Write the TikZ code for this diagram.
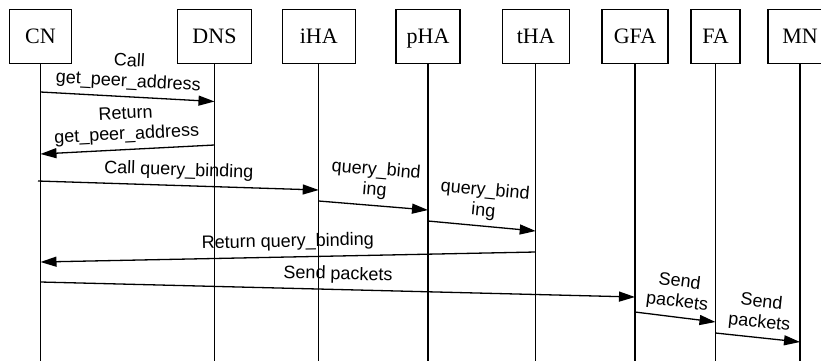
\documentclass[tikz,border=0pt]{standalone}
\usepackage{fontspec}
\setmainfont{Liberation Serif}
\newfontfamily\msgfont{Liberation Sans}
\usetikzlibrary{arrows.meta,calc}

\begin{document}
\begin{tikzpicture}[x=1pt,y=-1pt,
  actor/.style={draw, line width=1.3pt, minimum height=54pt, inner sep=0pt,
    font=\fontsize{22}{24}\selectfont, text height=14.5pt, text depth=0pt},
  lifeline/.style={line width=1.3pt},
  msg/.style={line width=1.3pt, -{Triangle[length=16pt,width=10pt]}},
  lbl/.style={sloped, above=10pt, inner sep=0pt, outer sep=0pt, align=center,
    text depth=0pt, font=\msgfont\fontsize{18}{20.5}\selectfont}
]
\useasboundingbox (0,0) rectangle (821,360);
\clip (0,0) rectangle (821,360);

% participants
\node[actor, minimum width=62pt] (CN)  at (40.5,36.3)  {CN};
\node[actor, minimum width=74pt] (DNS) at (214.5,36.3) {DNS};
\node[actor, minimum width=73pt] (iHA) at (318.7,36.3) {iHA};
\node[actor, minimum width=64pt] (pHA) at (428,36.3)   {pHA};
\node[actor, minimum width=67pt] (tHA) at (535.7,36.3) {tHA};
\node[actor, minimum width=66pt] (GFA) at (635,36.3)   {GFA};
\node[actor, minimum width=49pt] (FA)  at (715.5,36.3) {FA};
\node[actor, minimum width=64pt] (MN)  at (800,36.3)   {MN};

% lifelines
\foreach \p in {CN,DNS,iHA,pHA,tHA,GFA,FA,MN}
  \draw[lifeline] (\p.south) -- (\p.south |- 0,370);

% messages
\draw[msg] (CN |- 0,92) -- node[lbl]{Call\\get\_peer\_address} (DNS |- 0,101.5);
\draw[msg] (DNS |- 0,145) -- node[lbl]{Return\\get\_peer\_address} (CN |- 0,154);
\draw[msg] ($(CN |- 0,181)+(-2.5,0)$) -- node[lbl]{Call query\_binding} (iHA |- 0,190);
\draw[msg] (iHA |- 0,201) -- node[lbl]{query\_bind\\ing} (pHA |- 0,210);
\draw[msg] (pHA |- 0,221) -- node[lbl]{query\_bind\\ing} (tHA |- 0,231);
\draw[msg] (tHA |- 0,252) -- node[lbl]{Return query\_binding} (CN |- 0,262);
\draw[msg] (CN |- 0,282) -- node[lbl]{Send packets} (GFA |- 0,297);
\draw[msg] (GFA |- 0,312) -- node[lbl]{Send\\packets} (FA |- 0,322);
\draw[msg] (FA |- 0,333) -- node[lbl]{Send\\packets} (MN |- 0,342);
\end{tikzpicture}
\end{document}
